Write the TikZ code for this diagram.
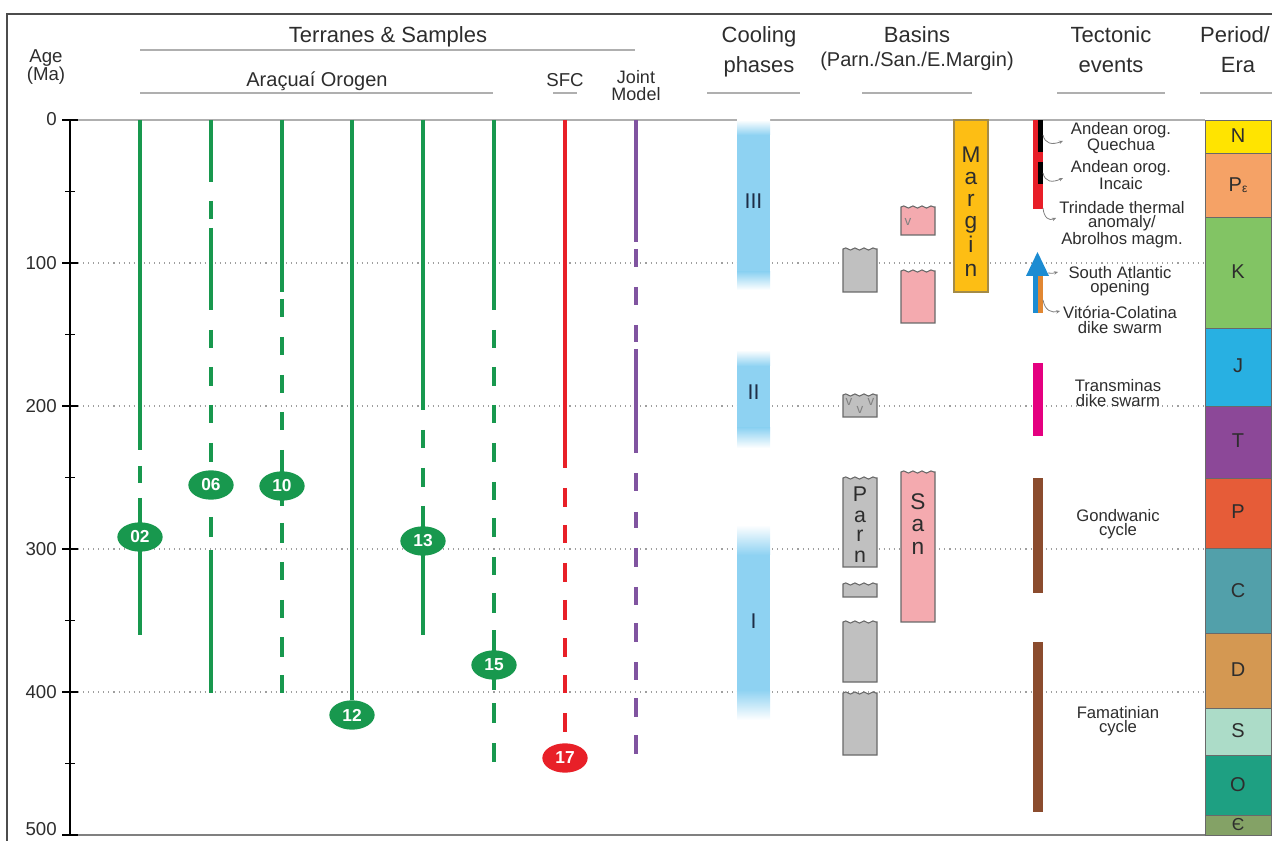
\documentclass[tikz,border=0pt]{standalone}
\usepackage{fontspec}
\setmainfont{Liberation Sans}
\usetikzlibrary{decorations.pathmorphing,arrows.meta,shapes.geometric}
\definecolor{sgreen}{RGB}{24,152,78}
\definecolor{sred}{RGB}{232,32,40}
\definecolor{spurple}{RGB}{128,84,160}
\definecolor{cool}{RGB}{142,210,242}
\definecolor{coolt}{RGB}{30,45,70}
\definecolor{bgray}{RGB}{192,192,192}
\definecolor{bpink}{RGB}{244,170,175}
\definecolor{morange}{RGB}{253,190,20}
\definecolor{edge}{RGB}{105,105,105}
\definecolor{txt}{RGB}{45,45,45}
\definecolor{hline}{RGB}{175,175,175}
\definecolor{tred}{RGB}{232,30,40}
\definecolor{tmag}{RGB}{228,0,128}
\definecolor{tbrown}{RGB}{139,76,46}
\definecolor{tblue}{RGB}{28,140,210}
\definecolor{torange}{RGB}{225,135,50}
\definecolor{pN}{RGB}{255,228,0}
\definecolor{pPg}{RGB}{245,162,102}
\definecolor{pK}{RGB}{130,196,100}
\definecolor{pJ}{RGB}{40,176,226}
\definecolor{pT}{RGB}{140,72,152}
\definecolor{pP}{RGB}{230,92,56}
\definecolor{pC}{RGB}{82,160,170}
\definecolor{pD}{RGB}{212,152,82}
\definecolor{pS}{RGB}{172,220,200}
\definecolor{pO}{RGB}{30,160,130}
\definecolor{pE}{RGB}{132,162,102}
\newcommand\sgline[4]{\draw[line width=3pt,#1] (#2,#3) -- (#2,#4);}
\newcommand\basinbox[5]{\draw[draw=edge, line width=0.8pt, fill=#5] (#1,#4) -- (#1,#2) decorate[decoration={snake, segment length=6.8pt, amplitude=0.8pt}]{-- (#3,#2)} -- (#3,#4) -- cycle;}
\tikzset{
 samp/.style={ellipse, fill=#1, text=white, inner sep=0pt, minimum width=34pt, minimum height=22pt, font=\fontsize{13}{13}\selectfont\bfseries},
 hdr/.style={font=\fontsize{16.5}{16.5}\selectfont, text=txt, anchor=base, inner sep=0pt},
 subh/.style={font=\fontsize{15}{15}\selectfont, text=txt, anchor=base, inner sep=0pt},
 uline/.style={draw=hline, line width=0.8pt},
 evt/.style={font=\fontsize{12.5}{10.6}\selectfont, text=txt, align=center, inner sep=0pt},
 lead/.style={draw=gray, line width=0.6pt, -{Stealth[length=3pt,width=2.6pt]}},
 dotl/.style={draw=gray!75, line width=0.8pt, dash pattern=on 0.8pt off 3pt},
 per/.style={draw=edge, line width=0.6pt},
 plab/.style={font=\fontsize{15}{15}\selectfont, text=txt},
 blet/.style={anchor=base, inner sep=0pt, text=txt},
 axl/.style={font=\fontsize{14}{14}\selectfont, text=txt, anchor=east, inner sep=0pt},
 roman/.style={font=\fontsize{16}{16}\selectfont, text=coolt},
 smallh/.style={font=\fontsize{13.5}{13.5}\selectfont, text=txt, anchor=base, inner sep=0pt},
}
\begin{document}
\begin{tikzpicture}[x=0.75pt,y=-0.75pt]
\useasboundingbox (0,0) rectangle (1272,841);
% frame
\draw[draw=black!70, line width=1.5pt] (7,841) -- (7,14) -- (1272,14);
% headers
\node[font=\fontsize{14}{14}\selectfont, text=txt, anchor=base, inner sep=0pt] (hage) at (46,63) {Age};
\node[font=\fontsize{14}{14}\selectfont, text=txt, anchor=base, inner sep=0pt] (hma) at (46,81) {(Ma)};
\node[hdr] (hterr) at (388,43) {Terranes \& Samples};
\draw[uline] (140,50) -- (635,50);
\node[subh] (hara) at (317,87) {Araçuaí Orogen};
\draw[uline] (140,93) -- (493,93);
\node[font=\fontsize{14}{14}\selectfont, text=txt, anchor=base, inner sep=0pt] (hsfc) at (565,87) {SFC};
\draw[uline] (553,93) -- (577,93);
\node[smallh] (hj1) at (636,84) {Joint};
\node[smallh] (hj2) at (636,101) {Model};
\node[hdr] (hc1) at (759,43) {Cooling};
\node[hdr] (hc2) at (759,73) {phases};
\draw[uline] (707,93) -- (800,93);
\node[hdr] (hb1) at (917,43) {Basins};
\node[subh] (hb2) at (917,67) {(Parn./San./E.Margin)};
\draw[uline] (862,93) -- (972,93);
\node[hdr] (ht1) at (1111,43) {Tectonic};
\node[hdr] (ht2) at (1111,73) {events};
\draw[uline] (1057,93) -- (1165,93);
\node[hdr] (hp1) at (1235,43) {Period/};
\node[hdr] (hp2) at (1238,73) {Era};
\draw[uline] (1200,93) -- (1272,93);
% grid
\draw[hline, line width=0.8pt] (70,120) -- (1205,120);
\draw[draw=gray, line width=0.8pt] (62,835) -- (1205,835);
\foreach \y in {263,406,549,692} \draw[dotl] (78,\y) -- (1205,\y);
% axis
\draw[black, line width=1.1pt] (70,120) -- (70,835);
\foreach \y in {120,263,406,549,692,835} \draw[black, line width=1.1pt] (62,\y) -- (78,\y);
\foreach \y/\l in {119/0,263/100,406/200,549/300,692/400,829/500} \node[axl] (ax\l) at (57,\y) {\l};
\foreach \y in {191.5,334.5,477.5,620.5,763.5} \draw[black, line width=1.1pt] (65,\y) -- (75,\y);
% sample 02
\sgline{sgreen}{140}{120}{450}
\sgline{sgreen}{140}{466}{483}
\sgline{sgreen}{140}{498}{635}
\node[samp=sgreen] (s02) at (140,537) {02};
% sample 06
\foreach \a/\b in {120/182,201/219,228/310,330/348,367/386,405/423,443/462,517/537,550/693} {\sgline{sgreen}{211}{\a}{\b}}
\node[samp=sgreen] (s06) at (211,485) {06};
% sample 10
\foreach \a/\b in {120/292,299/317,337/355,375/393,412/430,450/472,500/506,523/543,562/580,600/618,637/657,675/693} {\sgline{sgreen}{282}{\a}{\b}}
\node[samp=sgreen] (s10) at (282,486) {10};
% sample 12
\sgline{sgreen}{352}{120}{700}
\node[samp=sgreen] (s12) at (352,715) {12};
% sample 13
\foreach \a/\b in {120/410,430/448,468/487,506/635} {\sgline{sgreen}{423}{\a}{\b}}
\node[samp=sgreen] (s13) at (423,541) {13};
% sample 15
\foreach \a/\b in {120/310,330/348,367/386,405/423,443/462,482/500,518/537,557/575,593/613,630/690,703/723,743/762} {\sgline{sgreen}{494}{\a}{\b}}
\node[samp=sgreen] (s15) at (494,665) {15};
% sample 17 SFC
\foreach \a/\b in {120/468,488/507,525/543,563/582,600/620,638/657,675/693,713/732} {\sgline{sred}{565}{\a}{\b}}
\node[samp=sred] (s17) at (565,758) {17};
% joint model
\foreach \a/\b in {120/242,249/267,287/305,325/342,349/453,473/491,512/528,548/567,587/605,623/642,662/680,698/717,735/754} {\sgline{spurple}{636}{\a}{\b}}
% cooling phases
\shade[top color=white, bottom color=cool] (737,120) rectangle (770,135);
\fill[cool] (737,135) rectangle (770,272);
\shade[top color=cool, bottom color=white] (737,272) rectangle (770,290);
\node[roman] (c3) at (753.5,201) {III};
\shade[top color=white, bottom color=cool] (737,350) rectangle (770,366);
\fill[cool] (737,366) rectangle (770,428);
\shade[top color=cool, bottom color=white] (737,428) rectangle (770,448);
\node[roman] (c2) at (753.5,392) {II};
\shade[top color=white, bottom color=cool] (737,525) rectangle (770,555);
\fill[cool] (737,555) rectangle (770,690);
\shade[top color=cool, bottom color=white] (737,690) rectangle (770,720);
\node[roman] (c1) at (753.5,621) {I};
% basins
\basinbox{843}{249}{877}{292}{bgray}
\basinbox{843}{395}{877}{417}{bgray}
\basinbox{843}{478}{877}{567}{bgray}
\basinbox{843}{584}{877}{597}{bgray}
\basinbox{843}{622}{877}{682}{bgray}
\basinbox{843}{693}{877}{755}{bgray}
\basinbox{901}{207}{935}{235}{bpink}
\basinbox{901}{271}{935}{323}{bpink}
\basinbox{901}{472}{935}{622}{bpink}
\node[font=\fontsize{10}{10}\selectfont, text=gray, inner sep=0pt] (v1) at (908,222) {v};
\node[font=\fontsize{10}{10}\selectfont, text=gray, inner sep=0pt] (v2) at (849,402) {v};
\node[font=\fontsize{10}{10}\selectfont, text=gray, inner sep=0pt] (v3) at (860,410) {v};
\node[font=\fontsize{10}{10}\selectfont, text=gray, inner sep=0pt] (v4) at (871,402) {v};
\draw[draw=edge!60!morange, line width=0.8pt, fill=morange] (954,120) rectangle (988,292);
\foreach \l/\y in {M/163,a/185,r/207,g/229,i/253,n/277} \node[blet, font=\fontsize{17}{17}\selectfont] (mg\y) at (971,\y) {\l};
\foreach \l/\y in {P/502,a/523,r/542,n/563} \node[blet, font=\fontsize{16}{16}\selectfont] (pa\y) at (860,\y) {\l};
\foreach \l/\y in {S/510,a/532,n/555} \node[blet, font=\fontsize{17}{17}\selectfont] (sa\y) at (918,\y) {\l};
% tectonic events
\fill[tred] (1033,120) rectangle (1043,209);
\fill[black] (1038,120) rectangle (1043,152);
\fill[black] (1038,162) rectangle (1043,184);
\fill[tblue] (1033,274) rectangle (1043,313);
\fill[torange] (1038,276) rectangle (1043,313);
\fill[tblue] (1026,276) -- (1037.5,252) -- (1049,276) -- cycle;
\fill[tmag] (1033,363) rectangle (1043,436);
\fill[tbrown] (1033,478) rectangle (1043,593);
\fill[tbrown] (1033,642) rectangle (1043,812);
\node[evt] (e1) at (1121,138) {Andean orog.\\Quechua};
\node[evt] (e2) at (1121,175) {Andean orog.\\Incaic};
\node[evt] (e3) at (1122,225) {Trindade thermal\\anomaly/\\Abrolhos magm.};
\node[evt] (e4) at (1120,281) {South Atlantic\\opening};
\node[evt] (e5) at (1120,320) {Vitória-Colatina\\dike swarm};
\node[evt] (e6) at (1118,393) {Transminas\\dike swarm};
\node[evt] (e7) at (1118,524) {Gondwanic\\cycle};
\node[evt] (e8) at (1118,721) {Famatinian\\cycle};
\coordinate (l1a) at (1043,135); \coordinate (l1b) at (1063,141);
\coordinate (l2a) at (1043,173); \coordinate (l2b) at (1063,178);
\coordinate (l3a) at (1043,208); \coordinate (l3b) at (1056,218);
\coordinate (l4a) at (1048,273); \coordinate (l4b) at (1058,272);
\coordinate (l5a) at (1043,300); \coordinate (l5b) at (1060,311);
\draw[lead] (l1a) .. controls (1045,144) and (1052,145) .. (l1b);
\draw[lead] (l2a) .. controls (1045,182) and (1052,183) .. (l2b);
\draw[lead] (l3a) .. controls (1044,218) and (1049,221) .. (l3b);
\draw[lead] (l4a) .. controls (1051,274) and (1054,273) .. (l4b);
\draw[lead] (l5a) .. controls (1045,311) and (1052,313) .. (l5b);
% periods
\foreach \a/\b/\c in {120/153/pN,153/217/pPg,217/328/pK,328/406/pJ,406/478/pT,478/548/pP,548/633/pC,633/708/pD,708/755/pS,755/815/pO,815/835/pE}
  \draw[per, fill=\c] (1205,\a) rectangle (1271,\b);
\node[plab] (pn) at (1238,136) {N};
\node[plab] (ppg) at (1238,185) {P\raisebox{-1pt}{\fontsize{9}{9}\selectfont ε}};
\node[plab] (pk) at (1238,272) {K};
\node[plab] (pj) at (1238,366) {J};
\node[plab] (pt) at (1238,441) {T};
\node[plab] (pp) at (1238,512) {P};
\node[plab] (pc) at (1238,591) {C};
\node[plab] (pd) at (1238,670) {D};
\node[plab] (ps) at (1238,731) {S};
\node[plab] (po) at (1238,785) {O};
\node[plab, font=\fontsize{13}{13}\selectfont] (pe) at (1238,825) {Є};
\end{tikzpicture}
\end{document}
